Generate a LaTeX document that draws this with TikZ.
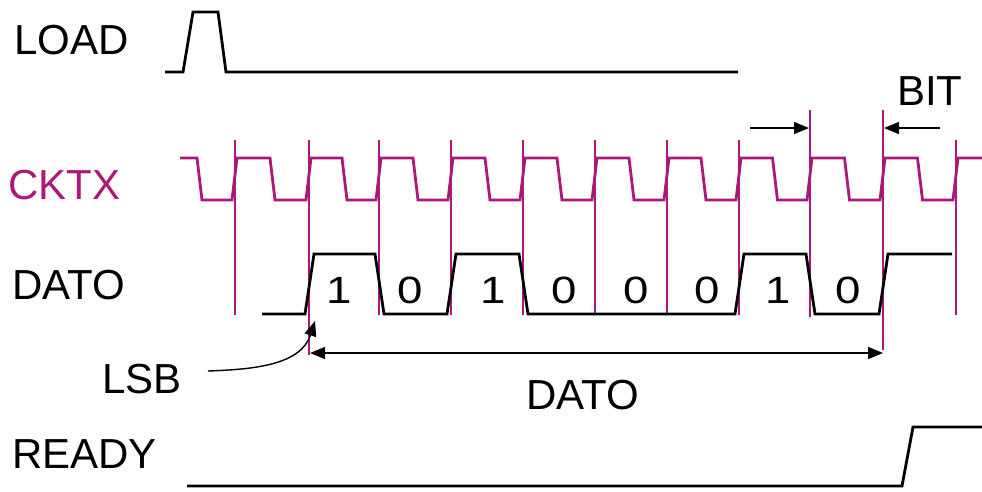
\documentclass[tikz,border=0pt]{standalone}
\usepackage{fontspec}
\setmainfont{Liberation Sans}
\newfontfamily\digfont[FakeStretch=1.2]{Liberation Sans}
\usetikzlibrary{arrows.meta}
\definecolor{mag}{RGB}{170,25,120}
\begin{document}
\begin{tikzpicture}[x=1pt,y=-1pt,
  sig/.style={line width=2.8pt, line join=miter},
  clk/.style={mag, line width=2.8pt, line join=miter},
  gridline/.style={mag, line width=1.2pt},
  lbl/.style={anchor=base west, inner sep=0pt, font=\fontsize{42}{42}\selectfont},
  dig/.style={anchor=base, inner sep=0pt, font=\digfont\fontsize{38}{38}\selectfont},
  dimarrow/.style={line width=1.4pt, -{Triangle[length=15pt,width=12pt]}},
  dimboth/.style={line width=1.4pt, {Triangle[length=15pt,width=12pt]}-{Triangle[length=15pt,width=12pt]}}]
\useasboundingbox (0,0) rectangle (982,491);
\fill[white] (0,0) rectangle (982,491);

% labels
\node[lbl] (load) at (14,54) {LOAD};
\node[lbl, text=mag] (cktx) at (8,199) {CKTX};
\node[lbl] (dato) at (12,299) {DATO};
\node[lbl] (lsb) at (102,393) {LSB};
\node[lbl] (ready) at (12,468) {READY};
\node[lbl] (datob) at (526,409) {DATO};
\node[lbl] (bit) at (897,105) {BIT};

% vertical grid lines
\foreach \x in {235,379,451,523,595,667,739,956}
  \draw[gridline] (\x,140) -- (\x,315);
\draw[gridline] (309,140) -- (309,355);
\draw[gridline] (810,110) -- (810,317);
\draw[gridline] (883,110) -- (883,350);

% LOAD
\draw[sig] (165,72) -- (183,72) -- (193,12) -- (218,12) -- (226,72) -- (738,72);

% CKTX
\draw[clk] (180,158) -- (197,158) -- (202,200) -- (232,200) -- (237,158)
  -- (270,158) -- (275,200) -- (306,200) -- (311,158)
  -- (342,158) -- (347,200) -- (376,200) -- (381,158)
  -- (413,158) -- (418,200) -- (448,200) -- (453,158)
  -- (485,158) -- (490,200) -- (520,200) -- (525,158)
  -- (557,158) -- (562,200) -- (592,200) -- (597,158)
  -- (629,158) -- (634,200) -- (664,200) -- (669,158)
  -- (701,158) -- (706,200) -- (736,200) -- (741,158)
  -- (772.5,158) -- (777.5,200) -- (807,200) -- (812,158)
  -- (844.5,158) -- (849.5,200) -- (880,200) -- (885,158)
  -- (917.5,158) -- (922.5,200) -- (953,200) -- (958,158) -- (982,158);

% DATO
\draw[sig] (262,314) -- (305,314) -- (314,254) -- (375,254) -- (384,314)
  -- (447,314) -- (456,254) -- (519,254) -- (528,314) -- (735,314)
  -- (744,254) -- (806,254) -- (815,314) -- (879,314) -- (888,254) -- (952,254);

% bits
\node[dig] (b0) at (339,303) {1};
\node[dig] (b1) at (410,303) {0};
\node[dig] (b2) at (493.5,303) {1};
\node[dig] (b3) at (564,303) {0};
\node[dig] (b4) at (636,303) {0};
\node[dig] (b5) at (707.5,303) {0};
\node[dig] (b6) at (778.5,303) {1};
\node[dig] (b7) at (848.5,303) {0};

% READY
\draw[sig] (187,486) -- (902,486) -- (913,427) -- (982,427);

% BIT arrows
\coordinate (bitL0) at (750,128);
\coordinate (bitL1) at (809,128);
\coordinate (bitR0) at (940,128);
\coordinate (bitR1) at (884,128);
\draw[dimarrow] (bitL0) -- (bitL1);
\draw[dimarrow] (bitR0) -- (bitR1);

% DATO span
\coordinate (ds0) at (310,353);
\coordinate (ds1) at (883,353);
\draw[dimboth] (ds0) -- (ds1);

% LSB pointer
\coordinate (lsb0) at (208,371);
\coordinate (lsb1) at (315,321);
\draw[dimarrow] (lsb0) to[out=2, in=-108] (lsb1);
\end{tikzpicture}
\end{document}
